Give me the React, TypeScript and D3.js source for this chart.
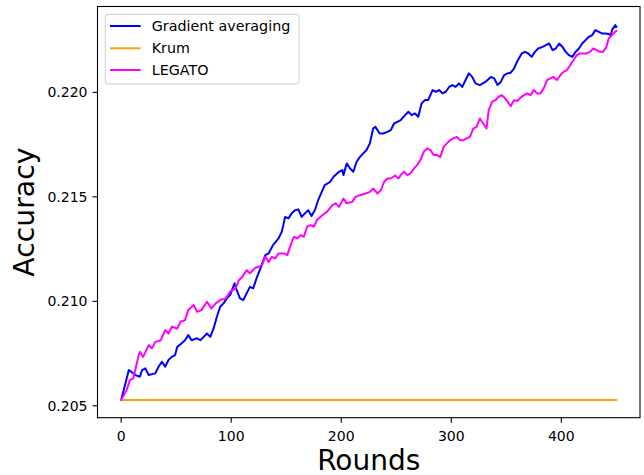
import React from "react";
import * as d3 from "d3";

const seriesNames = ["Gradient averaging", "Krum", "LEGATO"];
const seriesColors = ["#0000ff", "#ffa500", "#ff00ff"];

const gaRounds = [0,7,13,17,19,22,25,31,34,37,40,43,46,49,51,55,58,61,64,69,72,75,78,81,84,87,90,93,96,99,103,105,108,111,114,117,120,123,126,131,134,138,143,146,149,152,155,158,161,164,167,170,173,176,179,183,185,190,193,198,201,202,205,208,211,214,217,220,223,226,229,231,235,238,242,245,248,251,254,258,261,264,267,270,273,276,279,283,286,289,292,295,298,301,304,307,310,313,316,319,322,326,331,336,339,342,345,348,351,354,357,360,364,367,370,373,376,379,383,386,389,392,395,398,401,404,407,410,413,416,419,422,425,428,431,434,437,440,443,445,446,449,450];
const gaValues = [0.20528,0.20671,0.20647,0.20639,0.20671,0.20679,0.20647,0.20655,0.20687,0.20711,0.20687,0.20719,0.20734,0.20743,0.20782,0.20799,0.20814,0.20838,0.20814,0.20823,0.20814,0.2083,0.20846,0.2083,0.2087,0.20926,0.20974,0.2099,0.21014,0.2103,0.21086,0.21054,0.21014,0.21006,0.21038,0.21069,0.21062,0.2111,0.21149,0.21221,0.21229,0.21269,0.21301,0.21333,0.21404,0.21397,0.21421,0.21436,0.2144,0.21404,0.21421,0.21436,0.21408,0.21436,0.21484,0.21532,0.21556,0.21572,0.21596,0.2162,0.21628,0.21604,0.2166,0.21636,0.2162,0.21668,0.21691,0.21708,0.21724,0.21756,0.21827,0.21835,0.21803,0.21803,0.21811,0.21819,0.21851,0.21859,0.21867,0.21891,0.21907,0.21891,0.21899,0.21883,0.21947,0.21963,0.21963,0.22011,0.22003,0.22011,0.21995,0.22003,0.22026,0.22035,0.22026,0.22043,0.22026,0.22059,0.22091,0.22074,0.22043,0.22035,0.2205,0.22074,0.22067,0.22035,0.2205,0.22082,0.22091,0.22094,0.22114,0.22149,0.22186,0.22194,0.22186,0.2217,0.22194,0.2221,0.22218,0.22226,0.22234,0.22202,0.2221,0.22234,0.22218,0.22194,0.22178,0.2217,0.22194,0.2221,0.22234,0.2225,0.22266,0.22274,0.22298,0.2229,0.22282,0.22282,0.22279,0.22274,0.22298,0.22322,0.22314];

const krumRounds = [0, 450];
const krumValues = [0.20528, 0.20528];

const legatoRounds = [0,5,8,11,16,17,20,25,28,31,36,40,43,46,51,54,58,61,66,69,73,78,82,86,90,95,99,104,107,110,114,117,122,125,128,131,134,137,140,143,148,151,154,157,160,163,166,169,172,175,178,183,187,192,195,198,202,205,210,213,217,222,226,229,233,236,239,242,245,249,252,254,257,260,263,266,269,272,275,278,281,284,287,290,293,296,299,302,305,308,311,314,317,320,323,326,329,332,334,337,340,343,346,349,354,357,360,363,366,369,372,375,378,381,384,387,390,393,396,399,402,405,408,411,414,417,420,423,426,429,432,435,438,441,443,446,449,450];
const legatoValues = [0.20528,0.20575,0.20623,0.20631,0.20743,0.20758,0.20734,0.2079,0.20775,0.20806,0.20814,0.20862,0.20846,0.20878,0.2087,0.20902,0.2091,0.20958,0.20982,0.2095,0.20958,0.20998,0.20966,0.2099,0.21006,0.21014,0.21046,0.21062,0.21101,0.21117,0.21149,0.21134,0.21161,0.21165,0.21173,0.21213,0.21189,0.21213,0.21205,0.21229,0.21229,0.21221,0.21269,0.21309,0.21301,0.21317,0.21309,0.21357,0.21365,0.21357,0.21389,0.21413,0.21428,0.2146,0.21469,0.21452,0.21492,0.21469,0.21476,0.215,0.21508,0.21516,0.21524,0.2154,0.21516,0.21532,0.21572,0.21588,0.21588,0.21602,0.21588,0.21604,0.2162,0.21604,0.21612,0.21636,0.21652,0.21676,0.21715,0.21732,0.21724,0.217,0.217,0.21691,0.21739,0.21756,0.21771,0.2178,0.21787,0.21771,0.21771,0.2178,0.21787,0.21827,0.21835,0.21875,0.21851,0.21827,0.21915,0.21955,0.21963,0.21979,0.21987,0.21971,0.21934,0.21963,0.21959,0.21975,0.21987,0.21995,0.21987,0.22011,0.21995,0.21995,0.22019,0.22059,0.22067,0.22074,0.22059,0.22082,0.22098,0.22106,0.2213,0.22154,0.22178,0.22186,0.22186,0.22186,0.22194,0.2221,0.22202,0.22194,0.22194,0.22218,0.22258,0.22274,0.2229,0.22294];

const xTicks = [0, 100, 200, 300, 400];
const yTicks = [0.205, 0.21, 0.215, 0.22];
const xDomain = [-21.5, 471.5];
const yDomain = [0.20443, 0.22411];

const W = 644;
const H = 475;
const left = 97.5;
const right = 640;
const top = 6.5;
const bottom = 417.7;
const FONT = "'DejaVu Sans', sans-serif";

export default function App() {
  const x = d3.scaleLinear().domain(xDomain).range([left, right]);
  const y = d3.scaleLinear().domain(yDomain).range([bottom, top]);
  const line = d3
    .line<[number, number]>()
    .x((d) => x(d[0]))
    .y((d) => y(d[1]));

  const series = [
    d3.zip(gaRounds, gaValues) as [number, number][],
    d3.zip(krumRounds, krumValues) as [number, number][],
    d3.zip(legatoRounds, legatoValues) as [number, number][],
  ];

  const legX = 105.3;
  const legY = 14.3;
  const legW = 193.7;
  const legH = 69.7;
  const rowY = [26, 48.3, 70];

  return (
    <svg
      width={W}
      height={H}
      style={{ position: "absolute", left: 0, top: 0, background: "#fff" }}
      fontFamily={FONT}
    >
      <rect x={0} y={0} width={W} height={H} fill="#fff" />
      <defs>
        <clipPath id="plot">
          <rect x={left} y={top} width={right - left} height={bottom - top} />
        </clipPath>
      </defs>
      <g clipPath="url(#plot)">
        {series.map((s, i) => (
          <path
            key={i}
            d={line(s) || ""}
            fill="none"
            stroke={seriesColors[i]}
            strokeWidth={2}
            strokeLinejoin="round"
            strokeLinecap="square"
          />
        ))}
      </g>
      <rect
        x={left}
        y={top}
        width={right - left}
        height={bottom - top}
        fill="none"
        stroke="#000"
        strokeWidth={1.1}
      />
      {xTicks.map((t) => (
        <g key={"x" + t}>
          <line x1={x(t)} x2={x(t)} y1={bottom} y2={bottom + 5} stroke="#000" strokeWidth={1.1} />
          <text x={x(t)} y={440.5} fontSize={14} textAnchor="middle" fill="#000">
            {d3.format("d")(t)}
          </text>
        </g>
      ))}
      {yTicks.map((t) => (
        <g key={"y" + t}>
          <line x1={left - 5} x2={left} y1={y(t)} y2={y(t)} stroke="#000" strokeWidth={1.1} />
          <text x={87.5} y={y(t)} dy="0.36em" fontSize={14} textAnchor="end" fill="#000">
            {d3.format(".3f")(t)}
          </text>
        </g>
      ))}
      <text x={(left + right) / 2} y={470} fontSize={28} textAnchor="middle" fill="#000">
        Rounds
      </text>
      <text
        transform={`translate(34, ${(top + bottom) / 2}) rotate(-90)`}
        fontSize={28.3}
        textAnchor="middle"
        fill="#000"
      >
        Accuracy
      </text>
      <rect
        x={legX}
        y={legY}
        width={legW}
        height={legH}
        rx={2.8}
        fill="#fff"
        fillOpacity={0.8}
        stroke="#cccccc"
        strokeWidth={1}
      />
      {seriesNames.map((n, i) => (
        <g key={n}>
          <line x1={110} x2={140.7} y1={rowY[i]} y2={rowY[i]} stroke={seriesColors[i]} strokeWidth={2} />
          <text x={151.7} y={rowY[i]} dy="0.36em" fontSize={14.3} fill="#000">
            {n}
          </text>
        </g>
      ))}
    </svg>
  );
}
